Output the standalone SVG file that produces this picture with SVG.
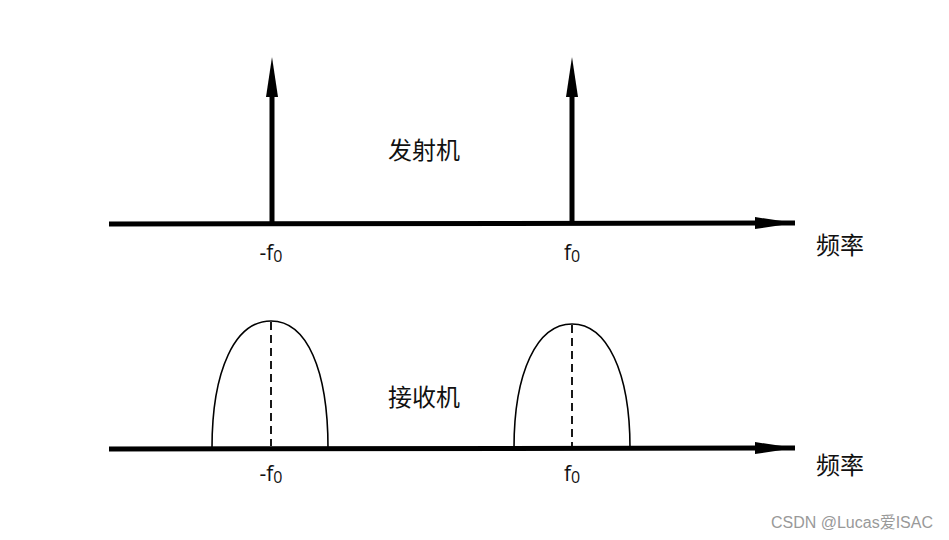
<svg xmlns="http://www.w3.org/2000/svg" width="949" height="540" viewBox="0 0 949 540">
<defs>
<marker id="ah" markerUnits="userSpaceOnUse" markerWidth="42" markerHeight="14" refX="40" refY="6" orient="auto">
<path d="M0,0 L40,6 L0,12 Z" fill="#000"/>
</marker>
</defs>
<style>
.axis{stroke:#000;stroke-width:5;fill:none}
.stem{stroke:#000;stroke-width:5;fill:none}
.hump{stroke:#000;stroke-width:1.6;fill:none}
.dash{stroke:#000;stroke-width:1.8;stroke-dasharray:8,5;fill:none}
.lbl{font-family:"Open Sans","Liberation Sans",sans-serif;font-size:21px;fill:#111}
.sub{font-size:16px}
.cn{font-family:"Noto Sans CJK SC","Noto Sans",sans-serif;font-size:24px;fill:#111}
.wm{font-family:"Liberation Sans","Noto Sans CJK SC",sans-serif;font-size:16px;fill:#999}
</style>
<rect width="949" height="540" fill="#fff"/>
<g id="connectors">
<line class="axis" x1="109" y1="224" x2="795" y2="223" marker-end="url(#ah)"/>
<line class="axis" x1="109" y1="449" x2="795" y2="448" marker-end="url(#ah)"/>
</g>
<g id="tx-neg">
<line class="stem" x1="272" y1="222" x2="272" y2="92"/>
<path d="M272,57 L266,97 L278,97 Z" fill="#000"/>
<text class="lbl" x="271" y="260" text-anchor="middle">-f<tspan class="sub" dy="2">0</tspan></text>
</g>
<g id="tx-pos">
<line class="stem" x1="572" y1="222" x2="572" y2="92"/>
<path d="M572,57 L566,97 L578,97 Z" fill="#000"/>
<text class="lbl" x="572" y="260" text-anchor="middle">f<tspan class="sub" dy="2">0</tspan></text>
</g>
<g id="tx-label"><text class="cn" x="424" y="159" text-anchor="middle">发射机</text></g>
<g id="freq1"><text class="cn" x="840" y="254" text-anchor="middle">频率</text></g>
<g id="rx-neg">
<path class="hump" d="M212,448 C212,370 235,321 271,321 C307,321 328,370 328,448"/>
<line class="dash" x1="271" y1="322" x2="271" y2="446"/>
<text class="lbl" x="271" y="481" text-anchor="middle">-f<tspan class="sub" dy="2">0</tspan></text>
</g>
<g id="rx-pos">
<path class="hump" d="M514,448 C514,372 537,324 572,324 C607,324 630,372 630,448"/>
<line class="dash" x1="572" y1="325" x2="572" y2="446"/>
<text class="lbl" x="572" y="481" text-anchor="middle">f<tspan class="sub" dy="2">0</tspan></text>
</g>
<g id="rx-label"><text class="cn" x="424" y="406" text-anchor="middle">接收机</text></g>
<g id="freq2"><text class="cn" x="840" y="474" text-anchor="middle">频率</text></g>
<text class="wm" x="933" y="528" text-anchor="end">CSDN @Lucas爱ISAC</text>
</svg>
